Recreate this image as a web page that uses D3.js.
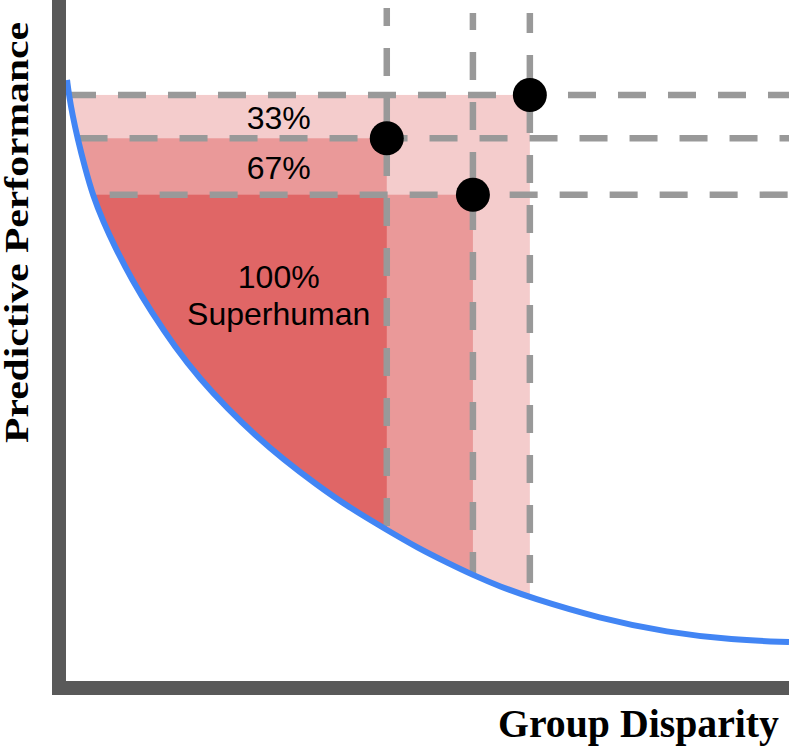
<!DOCTYPE html>
<html>
<head>
<meta charset="utf-8">
<script src="https://cdn.jsdelivr.net/npm/d3@7"></script>
<style>
  html, body { margin: 0; padding: 0; background: #ffffff; }
  svg { display: block; }
</style>
</head>
<body>
<svg id="chart" width="789" height="746"></svg>
<script>
// ---------------- data ----------------
// Frontier curve (x = group disparity, y = predictive performance), 0..100 units
const curveX = [1.10, 1.37, 1.85, 2.53, 3.53, 4.66, 6.08, 7.67, 10.00, 12.74, 15.89, 19.32, 23.15, 26.85, 30.68, 35.34, 39.86, 44.93, 49.04, 53.56, 56.71, 60.41, 64.52, 74.11, 83.29, 92.33, 100];
const curveY = [88.37, 86.19, 83.28, 79.94, 75.73, 71.51, 67.73, 64.10, 59.30, 54.51, 49.56, 44.91, 40.55, 36.77, 33.28, 29.51, 26.16, 22.97, 20.42, 18.02, 16.42, 14.75, 13.15, 10.10, 8.07, 6.98, 6.69];
// Three human decision-makers
const pointX = [64.5, 44.9, 56.7];
const pointY = [86.2, 79.9, 71.7];
// Level labels (share of humans dominated)
const levelLabels = ["33%", "67%", "100%"];
const superLabel = "Superhuman";
const xTitle = "Group Disparity";
const yTitle = "Predictive Performance";

// ---------------- layout / styles ----------------
const W = 789, H = 746;
const levelColors = ["#f4cccc", "#ea9999", "#e06666"];
const dashColor = "#999999";
const axisColor = "#595959";
const curveColor = "#4285f4";

const x = d3.scaleLinear().domain([0, 100]).range([59, 789]);
const y = d3.scaleLinear().domain([0, 100]).range([688, 0]);

const svg = d3.select("#chart");
svg.append("rect").attr("width", W).attr("height", H).attr("fill", "#ffffff");

const curveData = curveX.map((d, i) => [d, curveY[i]]);
const curveXat = d3.scaleLinear().domain(curveY).range(curveX); // x on curve for a given y
const curveYat = d3.scaleLinear().domain(curveX).range(curveY); // y on curve for a given x

// clip: region above/right of the frontier
const areaGen = d3.area()
  .x(d => x(d[0]))
  .y0(d => y(d[1]))
  .y1(() => -20)
  .curve(d3.curveBasis);
svg.append("clipPath").attr("id", "feasible")
  .append("path").attr("d", areaGen(curveData));

// dominance regions: for level k, union over all k-subsets of points
function subsets(arr, k) {
  if (k === 0) return [[]];
  if (arr.length < k) return [];
  const [h, ...rest] = arr;
  return subsets(rest, k - 1).map(s => [h, ...s]).concat(subsets(rest, k));
}
const idx = pointX.map((_, i) => i);
const fillG = svg.append("g").attr("clip-path", "url(#feasible)");
levelColors.forEach((col, li) => {
  const k = li + 1;
  subsets(idx, k).forEach(s => {
    const mx = d3.min(s, i => pointX[i]);
    const my = d3.min(s, i => pointY[i]);
    fillG.append("rect")
      .attr("x", x(0))
      .attr("y", y(my))
      .attr("width", x(mx) - x(0))
      .attr("height", y(0) - y(my))
      .attr("fill", col);
  });
});

// dashed guide lines
const vStart = [13, 8, 13];     // px top of vertical guides
const vOffset = [8, 10, 11];    // dash phase
const hOffset = [1, 48, 33];    // dash phase
const guides = svg.append("g")
  .attr("stroke", dashColor)
  .attr("stroke-width", 6.5)
  .attr("stroke-dasharray", "28,22")
  .attr("fill", "none");
pointX.forEach((px, i) => {
  guides.append("line")
    .attr("x1", x(curveXat(pointY[i])))
    .attr("x2", W + 10)
    .attr("y1", y(pointY[i]))
    .attr("y2", y(pointY[i]))
    .attr("stroke-dashoffset", hOffset[i]);
  guides.append("line")
    .attr("x1", x(px))
    .attr("x2", x(px))
    .attr("y1", vStart[i])
    .attr("y2", y(curveYat(px)))
    .attr("stroke-dashoffset", vOffset[i]);
});

// frontier curve
svg.append("path")
  .datum(curveData)
  .attr("d", d3.line().x(d => x(d[0])).y(d => y(d[1])).curve(d3.curveBasis))
  .attr("fill", "none")
  .attr("stroke", curveColor)
  .attr("stroke-width", 6);

// points
svg.append("g").selectAll("circle")
  .data(pointX.map((d, i) => [d, pointY[i]]))
  .join("circle")
  .attr("cx", d => x(d[0]))
  .attr("cy", d => y(d[1]))
  .attr("r", 17)
  .attr("fill", "#000000");

// level labels
const sortedY = pointY.slice().sort((a, b) => b - a); // top to bottom
const labelX = x(30.1);
const lab = svg.append("g")
  .attr("font-family", "'Liberation Sans', Arial, sans-serif")
  .attr("font-size", 32)
  .attr("fill", "#000000")
  .attr("text-anchor", "middle");
lab.append("text").attr("x", labelX).attr("y", (y(sortedY[0]) + y(sortedY[1])) / 2 + 12.5).text(levelLabels[0]);
lab.append("text").attr("x", labelX).attr("y", (y(sortedY[1]) + y(sortedY[2])) / 2 + 12.5).text(levelLabels[1]);
lab.append("text").attr("x", labelX).attr("y", y(sortedY[2]) + 93).text(levelLabels[2]);
lab.append("text").attr("x", labelX).attr("y", y(sortedY[2]) + 130).text(superLabel);

// axes (thick bars)
svg.append("path")
  .attr("d", `M${x(0)},-20 V${y(0)} H${W + 20}`)
  .attr("fill", "none")
  .attr("stroke", axisColor)
  .attr("stroke-width", 14)
  .attr("stroke-linejoin", "miter")
  .attr("stroke-linecap", "square");

// axis titles
svg.append("text")
  .attr("x", 779)
  .attr("y", 737)
  .attr("text-anchor", "end")
  .attr("font-family", "'Liberation Serif', 'Times New Roman', serif")
  .attr("font-weight", "bold")
  .attr("font-size", 40)
  .attr("textLength", 281)
  .attr("lengthAdjust", "spacingAndGlyphs")
  .text(xTitle);

svg.append("text")
  .attr("transform", "translate(28,232.5) rotate(-90)")
  .attr("text-anchor", "middle")
  .attr("font-family", "'Liberation Serif', 'Times New Roman', serif")
  .attr("font-weight", "bold")
  .attr("font-size", 33)
  .attr("textLength", 421)
  .attr("lengthAdjust", "spacingAndGlyphs")
  .text(yTitle);
</script>
</body>
</html>
